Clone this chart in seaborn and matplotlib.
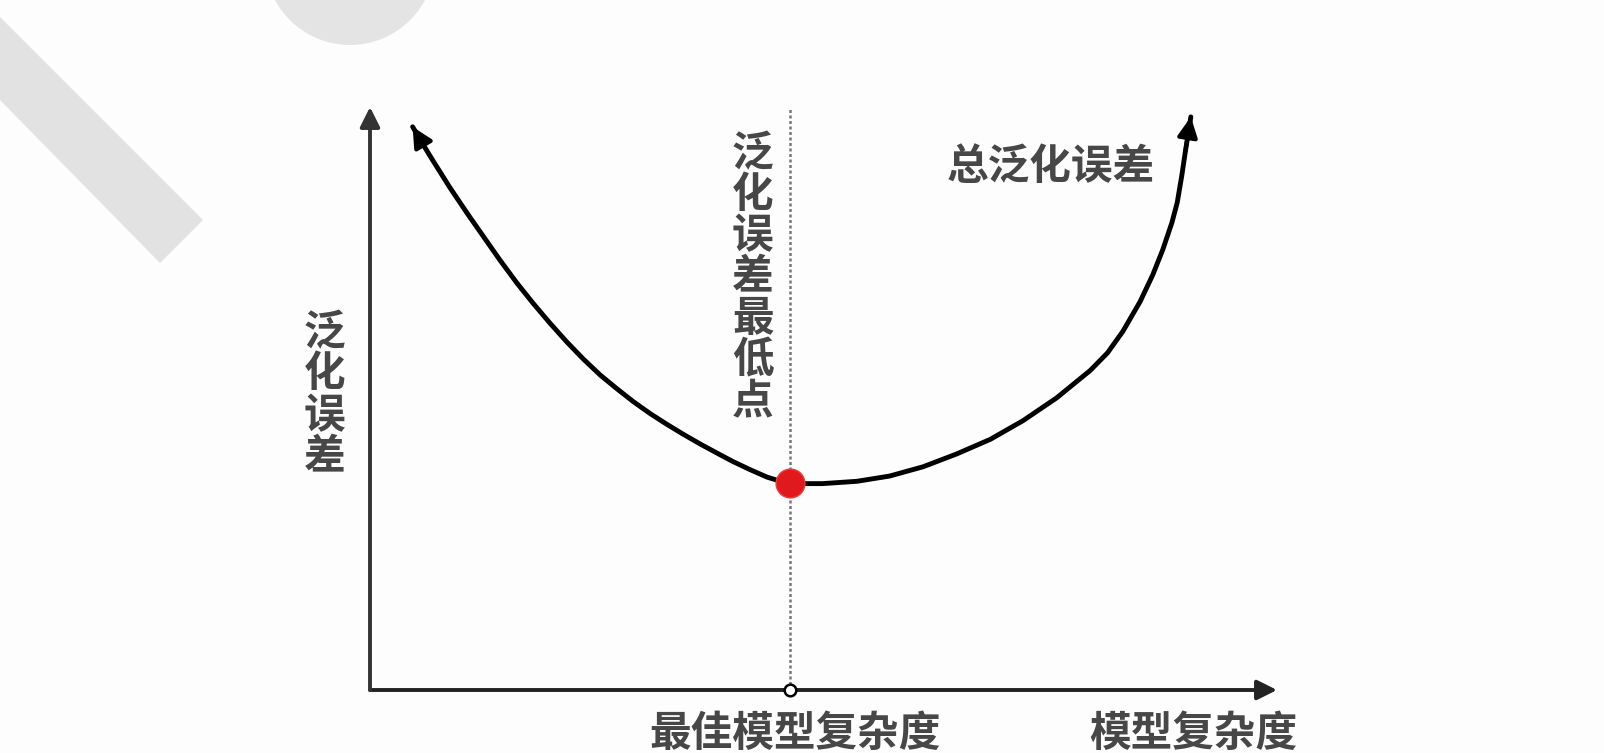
import matplotlib
matplotlib.use("Agg")
import matplotlib.pyplot as plt
from matplotlib.patches import Polygon, Ellipse
import seaborn as sns
import pandas as pd

# values (model complexity vs. generalisation error)
complexity = [0.47, 0.58, 0.69, 0.88, 1.07, 1.25, 1.43, 1.62, 1.80, 1.98, 2.17, 2.35,
              2.54, 2.72, 2.90, 3.09, 3.27, 3.45, 3.64, 3.83, 4.00, 4.19, 4.38, 4.55,
              4.63, 4.80, 4.99, 5.37, 5.73, 6.10, 6.47, 6.84, 7.20, 7.57, 7.94, 8.13,
              8.30, 8.49, 8.63, 8.74, 8.84, 8.90, 8.95, 8.99, 9.05]
error = [9.66, 9.37, 9.09, 8.62, 8.18, 7.78, 7.38, 6.98, 6.63, 6.30, 5.97, 5.68,
         5.40, 5.17, 4.95, 4.74, 4.56, 4.39, 4.22, 4.06, 3.92, 3.78, 3.65, 3.57,
         3.55, 3.54, 3.54, 3.58, 3.67, 3.83, 4.05, 4.30, 4.62, 5.01, 5.48, 5.78,
         6.15, 6.66, 7.12, 7.55, 8.01, 8.36, 8.82, 9.24, 9.83]
best_complexity = 4.63
min_error = 3.55

y_label = "泛化误差"
x_label = "模型复杂度"
best_label = "最佳模型复杂度"
min_label = "泛化误差最低点"
curve_label = "总泛化误差"

sns.set_theme(style="white")
plt.rcParams['font.family'] = ['Noto Sans CJK SC', 'DejaVu Sans']

fig = plt.figure(figsize=(16.04, 7.53), dpi=100)
fig.patch.set_facecolor("#fdfdfd")

# faint watermark shapes of the slide
fig.patches.append(Polygon([[0, 1 - 17/753], [203/1604, 1 - 220/753], [160/1604, 1 - 263/753], [0, 1 - 100/753]],
                           closed=True, transform=fig.transFigure, facecolor="#e2e2e2", edgecolor="none", zorder=0))
fig.patches.append(Ellipse((350/1604, 1 + 40/753), 170/1604, 170/753, transform=fig.transFigure,
                           facecolor="#e4e4e4", edgecolor="none", zorder=0))

ax = fig.add_axes([370/1604, 63/753, 907/1604, 583/753])
ax.set_facecolor("none")
ax.set_xlim(0, 10)
ax.set_ylim(0, 10)
ax.axis("off")

df = pd.DataFrame({"complexity": complexity, "error": error})
sns.lineplot(data=df, x="complexity", y="error", sort=False, color="black", lw=3.5, ax=ax,
             zorder=3, estimator=None, solid_joinstyle="round", solid_capstyle="round")

# arrow heads on both ends of the curve
ax.annotate("", xy=(complexity[0], error[0]), xytext=(complexity[1], error[1]),
            arrowprops=dict(arrowstyle="-|>", color="black", lw=3, mutation_scale=30, shrinkA=0, shrinkB=0))
ax.annotate("", xy=(complexity[-1], error[-1]), xytext=(complexity[-2], error[-2]),
            arrowprops=dict(arrowstyle="-|>", color="black", lw=3, mutation_scale=30, shrinkA=0, shrinkB=0))

# axes with arrows
ax.annotate("", xy=(10, 0), xytext=(0, 0), annotation_clip=False,
            arrowprops=dict(arrowstyle="-|>", color="#222222", lw=2.8, mutation_scale=30, shrinkA=0, shrinkB=0))
ax.annotate("", xy=(0, 10), xytext=(0, 0), annotation_clip=False,
            arrowprops=dict(arrowstyle="-|>", color="#333333", lw=2.8, mutation_scale=30, shrinkA=0, shrinkB=0))

# dotted guide through the minimum
ax.plot([best_complexity, best_complexity], [0, 10], color="#777777", lw=1.8,
        linestyle=(0, (1.2, 1.0)), zorder=2, clip_on=False)
sns.scatterplot(x=[best_complexity], y=[0], s=70, color="white", edgecolor="black", linewidth=1.8,
                ax=ax, zorder=4, clip_on=False)
sns.scatterplot(x=[best_complexity], y=[min_error], s=430, color="#e01a1c", edgecolor="#e84040",
                linewidth=1, ax=ax, zorder=5)

txt = dict(color="#474747", fontsize=30, fontweight="bold")
ax.text(-0.50, 5.06, "\n".join(y_label), ha="center", va="center", linespacing=0.98, **txt)
ax.text(4.22, 7.07, "\n".join(min_label), ha="center", va="center", linespacing=0.98, **txt)
ax.text(7.51, 8.97, curve_label, ha="center", va="center", **txt)
ax.text(4.69, -0.40, best_label, ha="center", va="top", **txt)
ax.text(9.08, -0.40, x_label, ha="center", va="top", **txt)

fig.savefig("out.png", dpi=100, facecolor=fig.get_facecolor())
